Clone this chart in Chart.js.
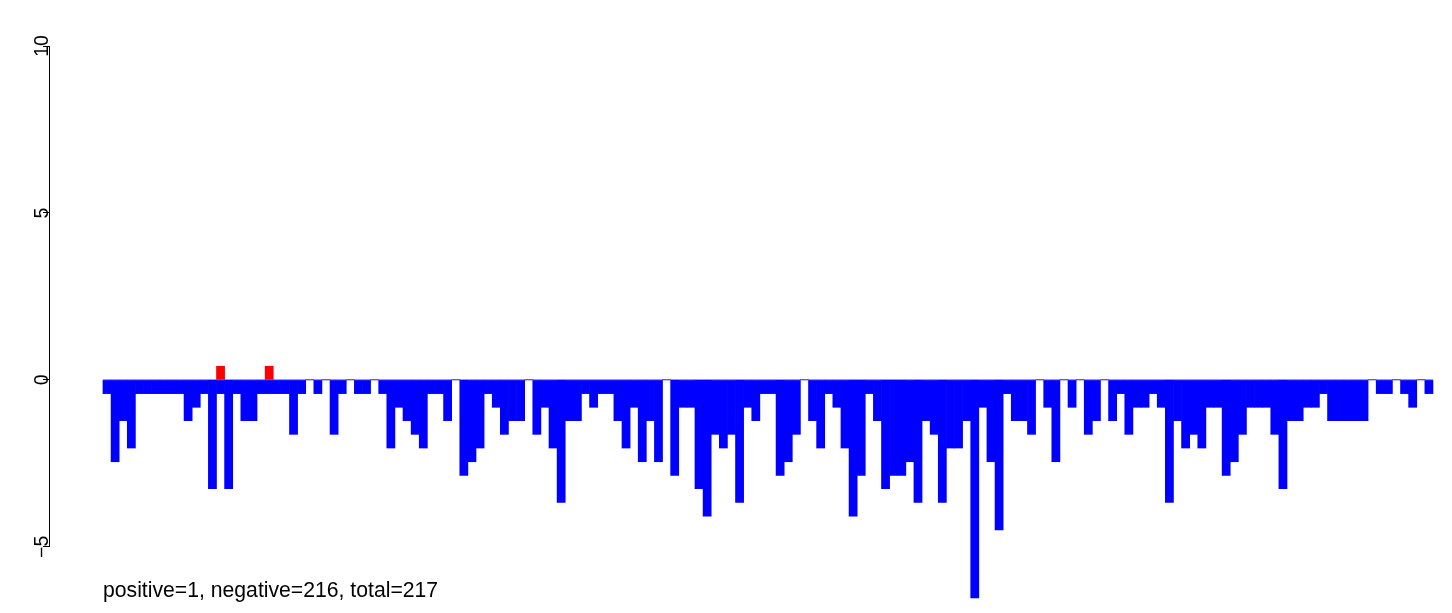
<!DOCTYPE html>
<html>
<head>
<meta charset="utf-8">
<script src="https://cdn.jsdelivr.net/npm/chart.js@4/dist/chart.umd.min.js"></script>
<style>
  html,body{margin:0;padding:0;background:#fff;}
  #wrap{width:1452px;height:613px;}
</style>
</head>
<body>
<div id="wrap"><canvas id="c" width="1452" height="613"></canvas></div>
<script>
// bar heights, left to right (one per slot, 0 = empty slot)
const blueVals = [
  -0.41,-2.45,-1.22,-2.04,-0.41,-0.41,-0.41,-0.41,-0.41,-0.41,-1.22,-0.82,-0.41,-3.26,
  -0.41,-3.26,-0.41,-1.22,-1.22,-0.41,-0.41,-0.41,-0.41,-1.63,-0.41,0,-0.41,
  0,-1.63,-0.41,0,-0.41,-0.41,0,-0.41,-2.04,-0.82,-1.22,-1.63,-2.04,-0.41,
  -0.41,-1.22,0,-2.86,-2.45,-2.04,-0.41,-0.82,-1.63,-1.22,-1.22,0,-1.63,
  -0.82,-2.04,-3.67,-1.22,-1.22,-0.41,-0.82,-0.41,-0.41,-1.22,-2.04,-0.82,-2.45,-1.22,
  -2.45,0,-2.86,-0.82,-0.82,-3.26,-4.08,-1.63,-2.04,-1.63,-3.67,-0.82,-1.22,-0.41,
  -0.41,-2.86,-2.45,-1.63,0,-1.22,-2.04,-0.41,-0.82,-2.04,-4.08,-2.86,-0.41,
  -1.22,-3.26,-2.86,-2.86,-2.45,-3.67,-1.22,-1.63,-3.67,-2.04,-2.04,-1.22,-6.53,-0.82,
  -2.45,-4.49,-0.41,-1.22,-1.22,-1.63,0,-0.82,-2.45,0,-0.82,0,-1.63,
  -1.22,0,-1.22,-0.41,-1.63,-0.82,-0.82,-0.41,-0.82,-3.67,-1.22,-2.04,-1.63,-2.04,
  -0.82,-0.82,-2.86,-2.45,-1.63,-0.82,-0.82,-0.82,-1.63,-3.26,-1.22,-1.22,-0.82,-0.82,
  -0.41,-1.22,-1.22,-1.22,-1.22,-1.22,0,-0.41,-0.41,0,-0.41,-0.82,0,-0.41
];
const redIdx = [14, 20];
const redVals = [0.41, 0.41];
const yTicks = [-5, 0, 5, 10];
const footText = "positive=1, negative=216, total=217";

const TICK_FONT = '19.5px "Liberation Sans", Arial, sans-serif';
const FOOT_FONT = '21.2px "Liberation Sans", Arial, sans-serif';

// draws zero line, y-axis line + rotated labels, and the footnote
const rDecor = {
  id: "rDecor",
  beforeDatasetsDraw(chart){
    const {ctx, scales:{x, y}} = chart;
    const x0 = x.getPixelForValue(-0.5), x1 = x.getPixelForValue(blueVals.length - 0.5);
    const y0 = Math.round(y.getPixelForValue(0)) - 0.5;
    ctx.save();
    ctx.strokeStyle = "#a0a0a0";
    ctx.lineWidth = 1;
    ctx.beginPath(); ctx.moveTo(x0, y0); ctx.lineTo(x1, y0); ctx.stroke();
    ctx.restore();
  },
  afterDraw(chart){
    const {ctx, scales:{y}} = chart;
    const ax = y.right - 0.5;
    ctx.save();
    ctx.strokeStyle = "#000";
    ctx.lineWidth = 1;
    ctx.beginPath();
    ctx.moveTo(ax, y.getPixelForValue(yTicks[0]));
    ctx.lineTo(ax, y.getPixelForValue(yTicks[yTicks.length-1]));
    ctx.stroke();
    ctx.fillStyle = "#000";
    ctx.font = TICK_FONT;
    ctx.textAlign = "center";
    ctx.textBaseline = "alphabetic";
    yTicks.forEach(t=>{
      ctx.save();
      ctx.translate(48, y.getPixelForValue(t));
      ctx.rotate(-Math.PI/2);
      ctx.fillText(String(t).replace("-", "\u2212"), 0, 0);
      ctx.restore();
    });
    ctx.font = FOOT_FONT;
    ctx.textAlign = "left";
    ctx.fillText(footText, 103, 597);
    ctx.restore();
  }
};

const ctx = document.getElementById("c").getContext("2d");
new Chart(ctx, {
  type: "bar",
  data: {
    datasets: [
      {
        data: blueVals.map((v,i)=>({x:i, y:v})),
        backgroundColor: "#0000ff",
        borderWidth: 0,
        barPercentage: 1,
        categoryPercentage: 1,
        grouped: false
      },
      {
        data: redIdx.map((k,i)=>({x:k, y:redVals[i]})),
        backgroundColor: "#ff0000",
        borderWidth: 0,
        barPercentage: 1,
        categoryPercentage: 1,
        grouped: false
      }
    ]
  },
  options: {
    responsive: false,
    animation: false,
    devicePixelRatio: 1,
    layout: {padding: {left: 0, right: 2, top: 46, bottom: 0}},
    plugins: {legend: {display: false}, tooltip: {enabled: false}},
    scales: {
      x: {
        type: "linear",
        display: false,
        offset: false,
        min: -7.03,
        max: 165.6
      },
      y: {
        min: -6.98,
        max: 10,
        afterBuildTicks: s => { s.ticks = yTicks.map(v=>({value:v})); },
        afterFit: s => { s.width = 50; },
        border: {display: false},
        grid: {drawOnChartArea: false, drawTicks: true, tickLength: 7, color: "#000", lineWidth: 1},
        ticks: {display: false}
      }
    }
  },
  plugins: [rDecor]
});
</script>
</body>
</html>
